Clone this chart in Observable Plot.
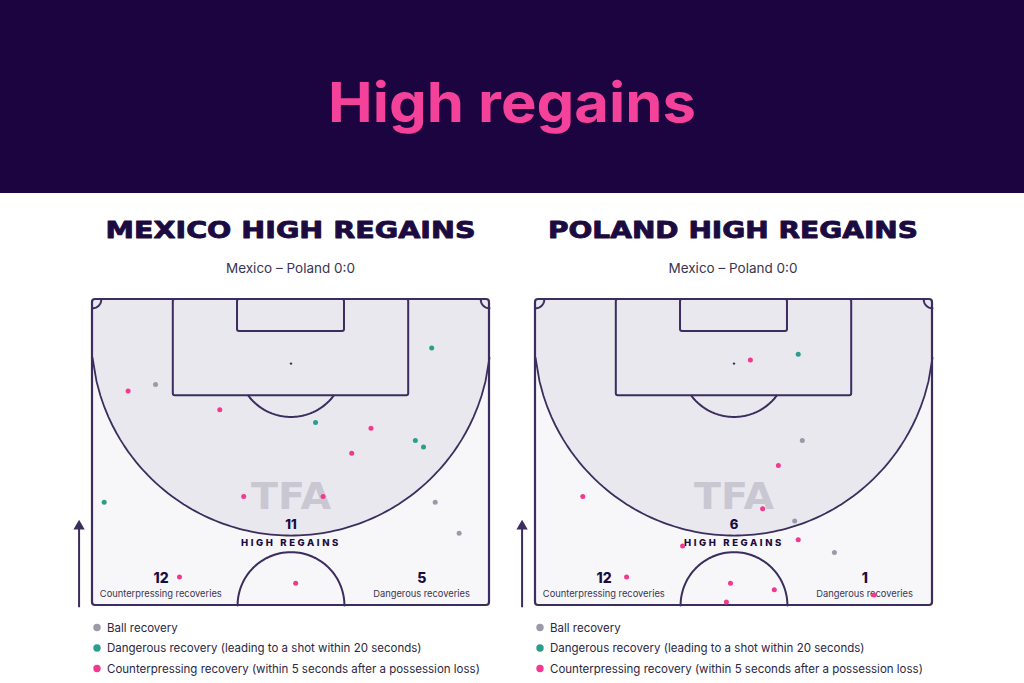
<!DOCTYPE html>
<html><head><meta charset="utf-8">
<script src="https://cdn.jsdelivr.net/npm/d3@7"></script>
<script src="https://cdn.jsdelivr.net/npm/@observablehq/plot@0.6"></script>
<style>
body{margin:0;background:#fff;width:1024px;height:683px;overflow:hidden;position:relative;font-family:Inter,"Noto Sans",sans-serif;}
#header{position:absolute;left:0;top:0;width:1024px;height:193px;background:#1b0440;}
.panel{position:absolute;top:290px;}
#overlay{position:absolute;left:0;top:0;pointer-events:none;}
</style>
</head><body>
<div id="header"></div>
<div id="left" class="panel" style="left:62px"></div>
<div id="right" class="panel" style="left:505px"></div>
<svg id="overlay" width="1024" height="683"></svg>
<script>
// ---- data ----
const typeNames = ["Ball recovery", "Dangerous recovery (leading to a shot within 20 seconds)", "Counterpressing recovery (within 5 seconds after a possession loss)"];
const typeKeys = ["b", "d", "c"];
const typeColors = ["#9c9aa9", "#2a9d8b", "#f2398f"];

const mexicoX = [58.1, 10.8, 6.1, 21.8, 38.2, 47.7, 55.3, 56.7, 44.4, 25.9, 39.5, 2.0, 58.7, 62.8, 14.9, 34.8];
const mexicoY = [8.3, 14.6, 15.7, 18.9, 21.1, 22.1, 24.2, 25.3, 26.4, 33.8, 33.8, 34.8, 34.8, 40.1, 47.6, 48.7];
const mexicoType = ["d","b","c","c","d","c","d","d","c","c","c","d","b","b","c","c"];

const polandX = [36.8, 45.0, 45.7, 41.6, 8.1, 38.9, 44.4, 45.0, 25.2, 51.2, 15.6, 33.4, 40.9, 32.7, 58.0];
const polandY = [10.4, 9.4, 24.2, 28.5, 33.8, 35.9, 38.0, 41.2, 42.3, 43.4, 47.6, 48.7, 49.8, 51.9, 50.7];
const polandType = ["c","d","b","c","c","c","b","c","c","b","c","c","c","c","c"];

const teams = ["MEXICO HIGH REGAINS", "POLAND HIGH REGAINS"];
const matchLabel = "Mexico – Poland 0:0";
const highRegains = [11, 6];
const counterpressing = [12, 12];
const dangerous = [5, 1];
const statLabels = ["HIGH REGAINS", "Counterpressing recoveries", "Dangerous recoveries"];

// pitch geometry (metres)
const pitchW = 68, pitchL = 52.5, boxW = 40.32, boxD = 16.5, sixW = 18.32, sixD = 5.5,
      spotD = 11, circleR = 9.15, cornerR = 1.5, highCY = 6.3, highR = 34.2;

const LINE = "#3b2d5e";
const INK = "#1c0b40";

function arc(cx, cy, r, a0, a1, n = 60) {
  return d3.range(n + 1).map(i => {
    const a = a0 + (a1 - a0) * i / n;
    return {x: cx + r * Math.cos(a), y: cy + r * Math.sin(a)};
  });
}

function pitch(X, Y, T, hr, cp, dg) {
  const pts = X.map((x, i) => ({x, y: Y[i], t: T[i]}));
  const mid = pitchW / 2;
  const highArea = d3.range(0, 101).map(i => {
    const x = pitchW * i / 100;
    return {x, y2: highCY + Math.sqrt(Math.max(0, highR * highR - (x - mid) ** 2))};
  });
  const penArcA = Math.asin((boxD - spotD) / circleR);
  const penArc = arc(mid, spotD, circleR, penArcA, Math.PI - penArcA);
  const centerArc = arc(mid, pitchL, circleR, Math.PI, 2 * Math.PI);
  const cornerL = arc(0, 0, cornerR, 0, Math.PI / 2, 20);
  const cornerR_ = arc(pitchW, 0, cornerR, Math.PI / 2, Math.PI, 20);
  const one = [0];
  return Plot.plot({
    width: 440, height: 325,
    marginLeft: 30, marginRight: 13, marginTop: 9, marginBottom: 10,
    x: {domain: [0, pitchW], axis: null},
    y: {domain: [0, pitchL], axis: null, reverse: true},
    color: {domain: typeKeys, range: typeColors},
    style: {background: "transparent", overflow: "visible", fontFamily: "Inter, sans-serif"},
    marks: [
      Plot.rect(one, {x1: 0, x2: pitchW, y1: 0, y2: pitchL, fill: "#f7f7f9", rx: 3}),
      Plot.areaY(highArea, {x: "x", y1: 0, y2: "y2", fill: "#e9e8ee"}),
      Plot.text(one, {x: mid, y: 33.9, text: () => "TFA", fontSize: 38, fontWeight: 900, fontFamily: "DejaVu Sans", fill: "#c9c7d2"}),
      Plot.line(highArea, {x: "x", y: "y2", stroke: LINE, strokeWidth: 1.8}),
      Plot.rect(one, {x1: mid - boxW / 2, x2: mid + boxW / 2, y1: 0, y2: boxD, stroke: LINE, strokeWidth: 2, fill: "none", rx: 2}),
      Plot.rect(one, {x1: mid - sixW / 2, x2: mid + sixW / 2, y1: 0, y2: sixD, stroke: LINE, strokeWidth: 2, fill: "none", rx: 2}),
      Plot.line(penArc, {x: "x", y: "y", stroke: LINE, strokeWidth: 2}),
      Plot.line(centerArc, {x: "x", y: "y", stroke: LINE, strokeWidth: 2}),
      Plot.line(cornerL, {x: "x", y: "y", stroke: LINE, strokeWidth: 2}),
      Plot.line(cornerR_, {x: "x", y: "y", stroke: LINE, strokeWidth: 2}),
      Plot.dot(one, {x: mid, y: spotD, r: 1.2, fill: LINE}),
      Plot.rect(one, {x1: 0, x2: pitchW, y1: 0, y2: pitchL, stroke: LINE, strokeWidth: 2.2, fill: "none", rx: 3}),
      // arrow
      Plot.link(one, {x1: -2.3, x2: -2.3, y1: 52.8, y2: 39.2, stroke: LINE, strokeWidth: 2}),
      Plot.dot(one, {x: -2.3, y: 38.9, symbol: "triangle", r: 4.2, fill: LINE}),
      // stats
      Plot.text(one, {x: mid, y: 38.6, text: () => String(hr), fontSize: 13, fontWeight: 800, fill: INK}),
      Plot.text(one, {x: mid, y: 41.74, text: () => statLabels[0], fontSize: 9.5, fontWeight: 800, fill: INK}),
      Plot.text(one, {x: 11.75, y: 47.8, text: () => String(cp), fontSize: 14, fontWeight: 800, fill: INK}),
      Plot.text(one, {x: 11.7, y: 50.45, text: () => statLabels[1], fontSize: 9.3, fill: "#3a3552"}),
      Plot.text(one, {x: 56.4, y: 47.8, text: () => String(dg), fontSize: 14, fontWeight: 800, fill: INK}),
      Plot.text(one, {x: 56.37, y: 50.45, text: () => statLabels[2], fontSize: 9.3, fill: "#3a3552"}),
      Plot.dot(pts, {x: "x", y: "y", fill: "t", r: 2.5})
    ]
  });
}

const pl = pitch(mexicoX, mexicoY, mexicoType, highRegains[0], counterpressing[0], dangerous[0]);
const pr = pitch(polandX, polandY, polandType, highRegains[1], counterpressing[1], dangerous[1]);
document.getElementById("left").append(pl);
document.getElementById("right").append(pr);
for (const p of [pl, pr]) {
  d3.select(p).selectAll("text").filter(function () { return this.textContent === statLabels[0]; })
    .attr("letter-spacing", "2.6px");
  d3.select(p).selectAll("text").filter(function () { return this.textContent === "TFA"; })
    .attr("textLength", 80).attr("lengthAdjust", "spacingAndGlyphs");
}

// overlay text
const ov = d3.select("#overlay");
ov.append("text").attr("x", 512).attr("y", 121.7).attr("text-anchor", "middle")
  .attr("font-family", "Inter, sans-serif").attr("font-weight", 700).attr("font-size", 55)
  .attr("fill", "#f4429a").attr("textLength", 368).attr("lengthAdjust", "spacingAndGlyphs").text("High regains");

const centers = [290.5, 733];
teams.forEach((t, i) => {
  ov.append("text").attr("x", centers[i]).attr("y", 238.3).attr("text-anchor", "middle")
    .attr("font-family", "DejaVu Sans, sans-serif").attr("font-weight", 800).attr("font-size", 23.5)
    .attr("fill", INK).attr("stroke", INK).attr("stroke-width", 0.9).attr("stroke-linejoin", "round")
    .attr("textLength", 370).attr("lengthAdjust", "spacingAndGlyphs").text(t);
  ov.append("text").attr("x", centers[i]).attr("y", 272.7).attr("text-anchor", "middle")
    .attr("font-family", "Inter, sans-serif").attr("font-size", 13.5)
    .attr("fill", "#3a3552").text(matchLabel);
});

const legendX = [97, 540];
const rowsY = [627.5, 648, 668.5];
legendX.forEach(lx => {
  typeNames.forEach((n, j) => {
    ov.append("circle").attr("cx", lx).attr("cy", rowsY[j]).attr("r", 3.7).attr("fill", typeColors[j]);
    ov.append("text").attr("x", lx + 10).attr("y", rowsY[j] + 4).attr("font-family", "Inter, sans-serif")
      .attr("font-size", 11.5).attr("fill", "#2b2745").text(n);
  });
});
</script>
</body></html>
